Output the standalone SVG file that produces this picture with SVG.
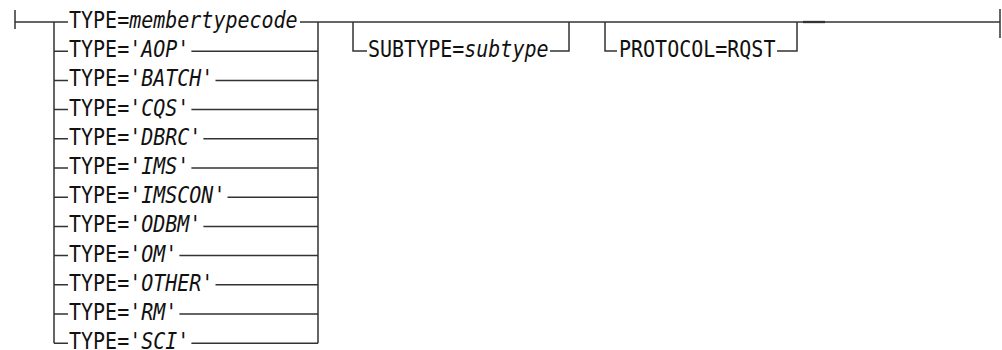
<svg xmlns="http://www.w3.org/2000/svg" width="1002" height="350" viewBox="0 0 1002 350">
<style>
.l{stroke:#333;stroke-width:1.5;fill:none}
.t{font-family:"DejaVu Sans Mono","Liberation Mono",monospace;font-size:20px;fill:#111}
.i{font-style:italic}
</style>
<rect width="1002" height="350" fill="#fff"/>
<g id="connectors" class="l">
<path d="M15,10V29M15,22H68"/>
<path d="M54,22V343.2M318,22V343.2"/>
<path d="M54,51.2H68M54,80.4H68M54,109.6H68M54,138.8H68M54,168H68M54,197.2H68M54,226.4H68M54,255.6H68M54,284.8H68M54,314H68M54,343.2H68"/>
<path d="M300,22H1000"/>
<path d="M191.4,51.2H318M215.5,80.4H318M191.4,109.6H318M203.4,138.8H318M191.4,168H318M227.5,197.2H318M203.4,226.4H318M179.4,255.6H318M215.5,284.8H318M179.4,314H318M191.4,343.2H318"/>
<path d="M353,22V51H367M550,51H569V22"/>
<path d="M605,22V51H617M777,51H797V22"/>
<path d="M803,22H825" stroke-width="2.3"/>
<path d="M1000,9V38"/>
</g>
<g id="type-choice" class="t">
<text transform="translate(69,28) scale(1,1.12)">TYPE=<tspan class="i">membertypecode</tspan></text>
<text transform="translate(69,57.2) scale(1,1.12)">TYPE=<tspan class="i">'AOP'</tspan></text>
<text transform="translate(69,86.4) scale(1,1.12)">TYPE=<tspan class="i">'BATCH'</tspan></text>
<text transform="translate(69,115.6) scale(1,1.12)">TYPE=<tspan class="i">'CQS'</tspan></text>
<text transform="translate(69,144.8) scale(1,1.12)">TYPE=<tspan class="i">'DBRC'</tspan></text>
<text transform="translate(69,174) scale(1,1.12)">TYPE=<tspan class="i">'IMS'</tspan></text>
<text transform="translate(69,203.2) scale(1,1.12)">TYPE=<tspan class="i">'IMSCON'</tspan></text>
<text transform="translate(69,232.4) scale(1,1.12)">TYPE=<tspan class="i">'ODBM'</tspan></text>
<text transform="translate(69,261.6) scale(1,1.12)">TYPE=<tspan class="i">'OM'</tspan></text>
<text transform="translate(69,290.8) scale(1,1.12)">TYPE=<tspan class="i">'OTHER'</tspan></text>
<text transform="translate(69,320) scale(1,1.12)">TYPE=<tspan class="i">'RM'</tspan></text>
<text transform="translate(69,349.2) scale(1,1.12)">TYPE=<tspan class="i">'SCI'</tspan></text>
</g>
<g id="subtype" class="t">
<text transform="translate(368,57) scale(1,1.12)">SUBTYPE=<tspan class="i">subtype</tspan></text>
</g>
<g id="protocol" class="t">
<text transform="translate(619,57) scale(1,1.12)">PROTOCOL=RQST</text>
</g>
</svg>
